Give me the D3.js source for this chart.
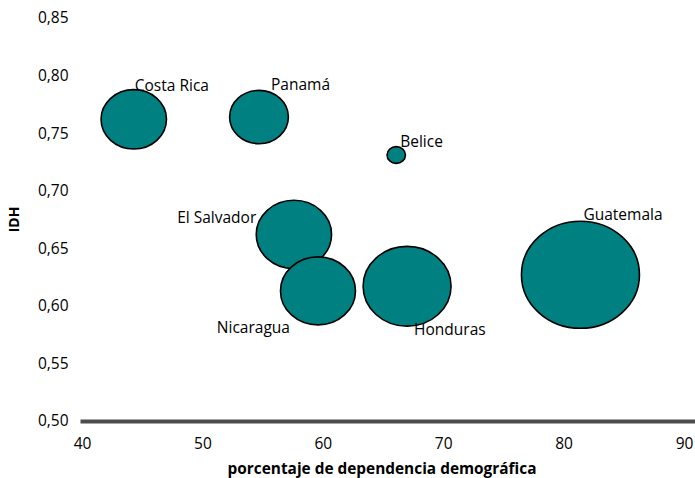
<!DOCTYPE html>
<html>
<head>
<meta charset="utf-8">
<script src="https://cdn.jsdelivr.net/npm/d3@7"></script>
<style>
  html, body { margin: 0; padding: 0; background: #fff; }
  svg { display: block; font-family: "Open Sans", sans-serif; }
</style>
</head>
<body>
<svg id="chart" width="695" height="478"></svg>
<script>
// ---- data ----
const paises = ["Costa Rica", "Panamá", "Belice", "El Salvador", "Nicaragua", "Honduras", "Guatemala"];
const dependencia = [44.3, 54.7, 66.1, 57.6, 59.6, 67.0, 81.4];
const idh = [0.762, 0.764, 0.731, 0.662, 0.613, 0.617, 0.627];
const poblacion = [4.15, 3.35, 0.33, 5.5, 5.45, 7.5, 13.5];
const xTicks = [40, 50, 60, 70, 80, 90];
const yTicks = [0.50, 0.55, 0.60, 0.65, 0.70, 0.75, 0.80, 0.85];
const xTitle = "porcentaje de dependencia demográfica";
const yTitle = "IDH";

// ---- label placement (layout only) ----
const labelPlace = {
  "Costa Rica": {side: "top", dx: 1, dy: 1, anchor: "start"},
  "Panamá": {side: "top", dx: 12, dy: 0, anchor: "start"},
  "Belice": {side: "top", dx: 4, dy: 0, anchor: "start"},
  "Guatemala": {side: "top", dx: 3, dy: -1, anchor: "start"},
  "El Salvador": {side: "left", dx: 0, dy: -11, anchor: "end"},
  "Nicaragua": {side: "bottomc", dx: -28, dy: 8, anchor: "end"},
  "Honduras": {side: "bottomc", dx: 7, dy: 9, anchor: "start"}
};

const W = 695, H = 478;
const svg = d3.select("#chart");

const x = d3.scaleLinear().domain([40, 90]).range([82, 684]);
const y = d3.scaleLinear().domain([0.50, 0.85]).range([421, 18]);
const r = d3.scaleSqrt().domain([0, d3.max(poblacion)]).range([0, 59]);
const aspect = 0.907;

const data = paises.map((p, i) => ({name: p, dep: dependencia[i], idh: idh[i], pop: poblacion[i]}));

// y tick labels
const yAxis = d3.axisLeft(y).tickValues(yTicks).tickSize(0).tickPadding(0)
  .tickFormat(d => d3.format(".2f")(d).replace(".", ","));
const gy = svg.append("g").attr("transform", "translate(68.5,0)").call(yAxis);
gy.select(".domain").remove();
gy.selectAll("text").attr("font-size", 15.5).attr("fill", "#000")
  .attr("font-family", "Open Sans, sans-serif");

// x tick labels
const xAxis = d3.axisBottom(x).tickValues(xTicks).tickSize(0).tickPadding(0)
  .tickFormat(d3.format("d"));
const gx = svg.append("g").attr("transform", "translate(0,438)").call(xAxis);
gx.select(".domain").remove();
gx.selectAll("text").attr("font-size", 15.5).attr("fill", "#000")
  .attr("font-family", "Open Sans, sans-serif");

// bottom axis line
svg.append("line")
  .attr("x1", x(40) - 1.5).attr("x2", W)
  .attr("y1", y(0.50) + 0.5).attr("y2", y(0.50) + 0.5)
  .attr("stroke", "#4d4d4d").attr("stroke-width", 4);

// bubbles (largest behind)
const sorted = data.slice().sort((a, b) => b.pop - a.pop);
svg.append("g").selectAll("ellipse").data(sorted).join("ellipse")
  .attr("cx", d => x(d.dep))
  .attr("cy", d => y(d.idh))
  .attr("rx", d => r(d.pop))
  .attr("ry", d => r(d.pop) * aspect)
  .attr("fill", "#008080")
  .attr("stroke", "#000")
  .attr("stroke-width", 1.6);

// labels
svg.append("g").selectAll("text").data(data).join("text")
  .attr("font-size", 15.5)
  .attr("fill", "#000")
  .attr("text-anchor", d => labelPlace[d.name].anchor)
  .attr("x", d => {
    const lp = labelPlace[d.name], cx = x(d.dep), rx = r(d.pop);
    if (lp.side === "left") return cx - rx + lp.dx;
    return cx + lp.dx;
  })
  .attr("y", d => {
    const lp = labelPlace[d.name], cy = y(d.idh), ry = r(d.pop) * aspect;
    if (lp.side === "top") return cy - ry + lp.dy;
    if (lp.side === "left") return cy + lp.dy;
    return cy + ry + lp.dy;
  })
  .text(d => d.name);

// axis titles
svg.append("text")
  .attr("x", 382).attr("y", 474)
  .attr("text-anchor", "middle").attr("font-size", 15.4).attr("font-weight", "bold")
  .text(xTitle);

svg.append("text")
  .attr("transform", `translate(19,${(y.range()[0] + y.range()[1]) / 2}) rotate(-90)`)
  .attr("text-anchor", "middle").attr("font-size", 14).attr("font-weight", "bold")
  .text(yTitle);
</script>
</body>
</html>
